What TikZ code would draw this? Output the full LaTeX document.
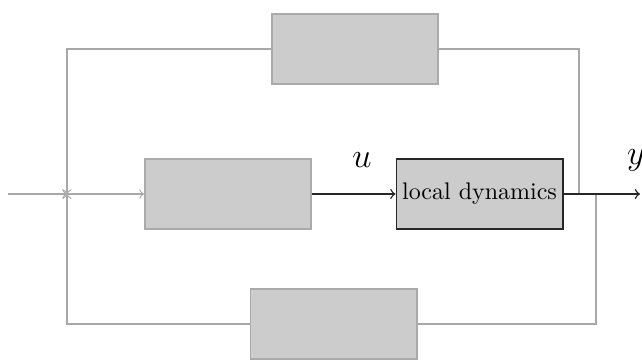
\documentclass[tikz,border=0pt]{standalone}
\usetikzlibrary{arrows}
\begin{document}
\begin{tikzpicture}[x=0.4167pt,y=-0.4167pt,
  blk/.style={draw=boxgray,fill=fillgray,line width=0.8pt,minimum width=69.2pt,minimum height=29.2pt,inner sep=0pt},
  dblk/.style={draw=black!85,fill=fillgray,line width=0.8pt,minimum width=69.2pt,minimum height=29.2pt,inner sep=0pt},
  gline/.style={draw=linegray,line width=0.5pt},
  bline/.style={draw=black!85,line width=0.6pt},
  tip/.style={-to}]
\definecolor{boxgray}{HTML}{AAAAAA}
\definecolor{fillgray}{HTML}{CCCCCC}
\definecolor{linegray}{HTML}{A8A8A8}
\useasboundingbox (0,0) rectangle (642,359);
\node[blk] (top) at (355,49) {};
\node[blk] (mid) at (228,194) {};
\node[dblk] (loc) at (479.5,194) {local dynamics};
\node[blk] (bot) at (333.5,324) {};
\coordinate (in) at (8,194);
\coordinate (j) at (67,194);
\coordinate (out) at (640,194);
\coordinate (tr) at (579,194);
\coordinate (br) at (596,194);
\node (ulab) at (362,160) {\Large $u$};
\node (ylab) at (636,160) {\Large $y$};
\draw[gline,tip] (in) -- (j);
\draw[gline,tip] (j) -- (mid.west);
\draw[gline] (tr) |- (top.east);
\draw[gline,tip] (top.west) -| (j);
\draw[gline] (br) |- (bot.east);
\draw[gline,tip] (bot.west) -| (j);
\draw[bline,tip] (mid.east) -- (loc.west);
\draw[bline,tip] (loc.east) -- (out);
\end{tikzpicture}
\end{document}
